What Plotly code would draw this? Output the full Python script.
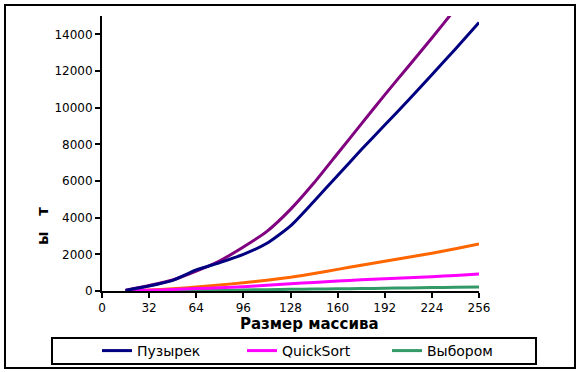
import plotly.graph_objects as go

sizes = [16, 32, 48, 64, 80, 96, 112, 128, 144, 160, 176, 192, 208, 224, 240, 256]
bubble = [30, 270, 580, 1150, 1550, 2000, 2600, 3550, 4900, 6300, 7700, 9050, 10400, 11800, 13200, 14650]
bubble_theory = [40, 300, 600, 1080, 1650, 2400, 3250, 4450, 5900, 7500, 9100, 10700, 12250, 13800, 15400, 17000]
quick = [10, 40, 80, 130, 180, 235, 310, 390, 470, 545, 610, 670, 725, 780, 850, 925]
quick_theory = [0, 50, 120, 220, 330, 450, 590, 750, 950, 1180, 1400, 1620, 1840, 2060, 2300, 2560]
select = [0, 5, 15, 25, 40, 55, 70, 90, 105, 120, 135, 150, 170, 185, 200, 220]

x_ticks = [0, 32, 64, 96, 128, 160, 192, 224, 256]
y_ticks = [0, 2000, 4000, 6000, 8000, 10000, 12000, 14000]

names = ["Пузырек", "QuickSort", "Выбором"]
x_title = "Размер массива"
y_title = "ы   т"

def ln(color):
    return dict(color=color, width=3, shape="spline", smoothing=0.6)

fig = go.Figure()
fig.add_trace(go.Scatter(x=sizes, y=quick_theory, mode="lines", line=ln("#FF6600"), showlegend=False))
fig.add_trace(go.Scatter(x=sizes, y=select, mode="lines", line=ln("#339966"), name=names[2], legendrank=3))
fig.add_trace(go.Scatter(x=sizes, y=quick, mode="lines", line=ln("#FF00FF"), name=names[1], legendrank=2))
fig.add_trace(go.Scatter(x=sizes, y=bubble_theory, mode="lines", line=ln("#800080"), showlegend=False))
fig.add_trace(go.Scatter(x=sizes, y=bubble, mode="lines", line=ln("#000080"), name=names[0], legendrank=1))

L, R, T, B = 102, 100, 16, 81
W, H = 579, 372
pw, ph = W - L - R, H - T - B

def px(x):
    return (x - L) / pw

def py(y):
    return (H - B - y) / ph

fig.update_layout(
    width=W, height=H,
    margin=dict(l=L, r=R, t=T, b=B, pad=0, autoexpand=False),
    paper_bgcolor="white", plot_bgcolor="white",
    font=dict(family="DejaVu Sans", size=12, color="black"),
    xaxis=dict(range=[0, 256], tickvals=x_ticks, ticktext=[str(v) for v in x_ticks],
               showgrid=False, zeroline=False, showline=True, linecolor="black", linewidth=2,
               ticks="outside", ticklen=5, tickwidth=2, tickcolor="black", automargin=False,
               tickfont=dict(size=12)),
    yaxis=dict(range=[0, 15000], tickvals=y_ticks, ticktext=[str(v) for v in y_ticks],
               showgrid=False, zeroline=False, showline=True, linecolor="black", linewidth=2,
               ticks="outside", ticklen=5, tickwidth=2, tickcolor="black", tickfont=dict(size=12),
               automargin=False),
    legend=dict(orientation="h", x=px(97), xanchor="left", y=py(351), yanchor="middle",
                bgcolor="rgba(0,0,0,0)", borderwidth=0, entrywidth=100,
                font=dict(size=14, family="DejaVu Sans"), traceorder="normal"),
    shapes=[
        dict(type="rect", xref="paper", yref="paper", x0=px(5), x1=px(575), y0=py(368), y1=py(5),
             line=dict(color="black", width=2), fillcolor="rgba(0,0,0,0)", layer="below"),
        dict(type="rect", xref="paper", yref="paper", x0=px(52), x1=px(536), y0=py(364), y1=py(338),
             line=dict(color="black", width=2), fillcolor="rgba(0,0,0,0)"),
    ],
    annotations=[
        dict(text="<b>" + y_title + "</b>", xref="paper", yref="paper", x=px(43), y=py(226),
             showarrow=False, textangle=-90, font=dict(size=15), xanchor="center", yanchor="middle"),
        dict(text="<b>" + x_title + "</b>", xref="paper", yref="paper", x=px(309), y=py(324),
             showarrow=False, font=dict(size=15), xanchor="center", yanchor="middle"),
    ],
)

fig.write_html("out.html", config={"displayModeBar": False, "staticPlot": True},
               post_script="document.body.style.margin='0';document.body.style.overflow='hidden';")
